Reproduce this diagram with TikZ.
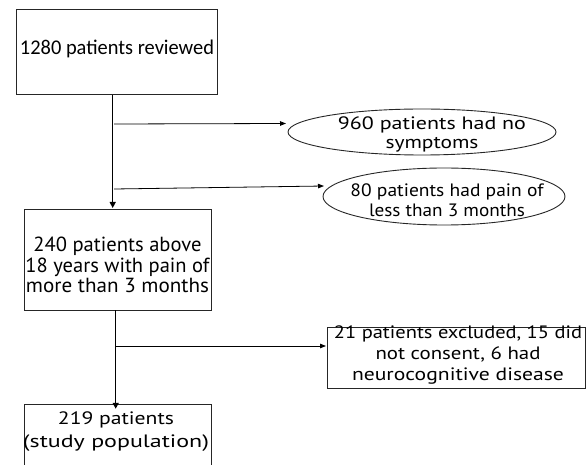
\documentclass[tikz,border=0pt]{standalone}
\usepackage{fontspec}
\usepackage{graphicx}
\setmainfont{PT Sans}
\newfontfamily\carl{Carlito}
\usetikzlibrary{arrows.meta,shapes.geometric}
\newcommand\fitw[2]{\resizebox{#1bp}{\height}{#2}}
\begin{document}
\begin{tikzpicture}[x=1bp,y=-1bp,
  txt/.style={inner sep=0pt, anchor=base},
  boxnode/.style={draw=black!85, line width=1pt, inner sep=0pt},
  ovalnode/.style={draw=black!85, ellipse, line width=0.9pt, inner sep=0pt},
  conn/.style={line width=1.3pt, -{Triangle[length=6bp,width=6bp]}},
  branch/.style={line width=0.8pt, -{Triangle[length=6bp,width=4.5bp]}}]
\useasboundingbox (0,0) rectangle (587,465);
\clip (0,0) rectangle (587,465);
% shapes
\node[boxnode, minimum width=201bp, minimum height=85bp] (b1) at (116.5,52.5) {};
\node[boxnode, minimum width=187.5bp, minimum height=101bp] (b2) at (117.8,259.5) {};
\node[boxnode, minimum width=187bp, minimum height=90bp, anchor=north] (b3) at (117.5,404.3) {};
\node[ovalnode, minimum width=268bp, minimum height=46bp] (e1) at (422,132) {};
\node[ovalnode, minimum width=242bp, minimum height=57bp] (e2) at (444,196.5) {};
\node[boxnode, minimum width=258bp, minimum height=61bp] (b4) at (456.5,357.5) {};
% texts
\node[txt, font=\carl\fontsize{21}{22}\selectfont] (t1) at (117,54.5)
  {\fitw{194}{1280 patients reviewed}};
\node[txt, font=\fontsize{20.5}{20}\selectfont] (t2) at (117.5,252)
  {\begin{tabular}[t]{@{}c@{}}\fitw{168}{240 patients above}\\ \fitw{184}{18 years with pain of}\\ \fitw{183}{more than 3 months}\end{tabular}};
\node[txt, font=\fontsize{18}{23.5}\selectfont] (t3) at (116,424)
  {\begin{tabular}[t]{@{}c@{}}\fitw{116}{219 patients}\\ \fitw{186}{(study population)}\end{tabular}};
\node[txt, font=\fontsize{18}{19}\selectfont] (t4) at (432,130)
  {\begin{tabular}[t]{@{}c@{}}\fitw{188}{960 patients had no}\\ \fitw{93}{symptoms}\end{tabular}};
\node[txt, font=\fontsize{18}{20}\selectfont] (t5) at (447,197)
  {\begin{tabular}[t]{@{}c@{}}\fitw{193}{80 patients had pain of}\\ \fitw{156}{less than 3 months}\end{tabular}};
\node[txt, font=\fontsize{18}{21}\selectfont] (t6) at (458,338.5)
  {\begin{tabular}[t]{@{}c@{}}\fitw{248}{21 patients excluded, 15 did}\\ \fitw{165}{not consent, 6 had}\\ \fitw{212}{neurocognitive disease}\end{tabular}};
% connectors
\coordinate (j1) at (112.7,124);
\coordinate (j2) at (112.7,189);
\coordinate (j3) at (115.7,346);
\coordinate (a1) at (286,123.5);
\coordinate (a2) at (324,186);
\draw[conn] (b1.south -| j1) -- ([yshift=0.5bp]b2.north -| j1);
\draw[conn] (b2.south -| j3) -- ([yshift=-4.5bp]b3.north -| j3);
\draw[branch] ([xshift=1.5bp]j1) -- (a1);
\draw[branch] ([xshift=1.5bp]j2) -- (a2);
\draw[branch] (j3) -- ([xshift=-1bp]b4.west |- j3);
\end{tikzpicture}
\end{document}
